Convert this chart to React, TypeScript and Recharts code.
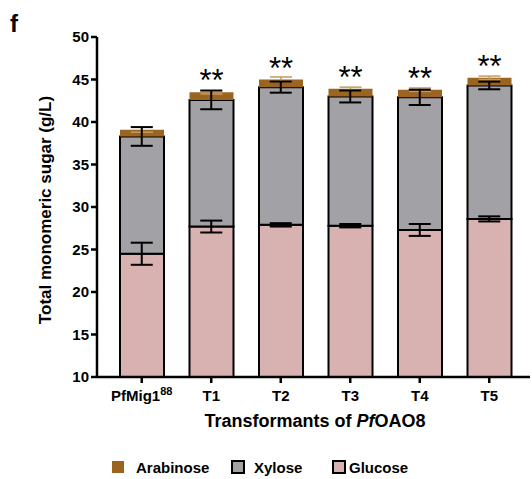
import React from "react";
import {
  ComposedChart,
  Bar,
  Line,
  XAxis,
  YAxis,
  ErrorBar,
  LabelList,
  Customized,
} from "recharts";

const categories = ["PfMig1", "T1", "T2", "T3", "T4", "T5"];
const glucose = [24.5, 27.7, 27.9, 27.8, 27.3, 28.6];
const glucoseErr = [1.3, 0.7, 0.2, 0.2, 0.7, 0.3];
const xylose = [13.8, 14.9, 16.2, 15.2, 15.6, 15.7];
const xyloseErr = [1.1, 1.1, 0.65, 0.7, 0.9, 0.45];
const arabinose = [0.8, 0.9, 0.9, 0.9, 0.9, 0.9];
const arabinoseErr = [0.3, 0.2, 0.3, 0.2, 0.2, 0.2];
const significance = ["", "**", "**", "**", "**", "**"];
const yTicks = [10, 15, 20, 25, 30, 35, 40, 45, 50];

const GLU = "#d8b1b1";
const XYL = "#a2a2a6";
const ARA = "#9c6421";
const FONT = "'Liberation Sans', Arial, sans-serif";

const data = categories.map((c, i) => ({
  name: c,
  glucose: glucose[i],
  xylose: xylose[i],
  arabinose: arabinose[i],
  glucoseTop: glucose[i],
  xyloseTop: glucose[i] + xylose[i],
  gluErr: glucoseErr[i],
  xylErr: xyloseErr[i],
  araErr: arabinoseErr[i],
  sig: significance[i],
}));

const XTick = (props: any) => {
  const { x, y, payload } = props;
  const v = payload.value as string;
  if (v === "PfMig1") {
    return (
      <text x={x} y={y + 16} textAnchor="middle" fontFamily={FONT} fontWeight="bold" fontSize={15} fill="#000">
        <tspan>PfMig1</tspan>
        <tspan dy={-6} fontSize={11}>88</tspan>
      </text>
    );
  }
  return (
    <text x={x} y={y + 16} textAnchor="middle" fontFamily={FONT} fontWeight="bold" fontSize={15} fill="#000">
      {v}
    </text>
  );
};

const renderStars = (props: any) => {
  const { x, y, width, value } = props;
  if (!value) return null;
  return (
    <text x={x + width / 2} y={y - 1} textAnchor="middle" fontFamily={FONT} fontSize={31} fill="#000">
      {value}
    </text>
  );
};

const Extras = () => {
  const items = [
    { label: "Arabinose", color: ARA, sx: 112, tx: 136, border: false },
    { label: "Xylose", color: XYL, sx: 232, tx: 254, border: true },
    { label: "Glucose", color: GLU, sx: 333, tx: 349, border: true },
  ];
  return (
    <g>
      <text x={10} y={32} fontFamily={FONT} fontWeight="bold" fontSize={24} fill="#000">f</text>
      <text
        x={45}
        y={210}
        transform="rotate(-90, 45, 210)"
        textAnchor="middle"
        dominantBaseline="central"
        fontFamily={FONT}
        fontWeight="bold"
        fontSize={17}
        fill="#000"
      >
        Total monomeric sugar (g/L)
      </text>
      <text x={315} y={427} textAnchor="middle" fontFamily={FONT} fontWeight="bold" fontSize={18} fill="#000">
        <tspan>Transformants of </tspan>
        <tspan fontStyle="italic">Pf</tspan>
        <tspan>OAO8</tspan>
      </text>
      {items.map((it) => (
        <g key={it.label}>
          <rect
            x={it.sx}
            y={461}
            width={12}
            height={12}
            fill={it.color}
            stroke={it.border ? "#000" : "none"}
            strokeWidth={it.border ? 2 : 0}
          />
          <text x={it.tx} y={473} fontFamily={FONT} fontWeight="bold" fontSize={15} fill="#000">
            {it.label}
          </text>
        </g>
      ))}
    </g>
  );
};

export default function App() {
  return (
    <div style={{ position: "absolute", left: 0, top: 0, width: 532, height: 479, background: "#fff" }}>
      <ComposedChart
        width={532}
        height={479}
        data={data}
        margin={{ top: 37, right: 2, bottom: 72, left: 37 }}
        barCategoryGap={0}
      >
        <XAxis
          dataKey="name"
          type="category"
          height={30}
          padding={{ left: 10, right: 6 }}
          axisLine={{ stroke: "#000", strokeWidth: 2.5 }}
          tickLine={{ stroke: "#000", strokeWidth: 2.5 }}
          tickSize={6}
          tick={<XTick />}
          interval={0}
        />
        <YAxis
          type="number"
          domain={[10, 50]}
          ticks={yTicks}
          allowDataOverflow
          width={60}
          axisLine={{ stroke: "#000", strokeWidth: 2.5 }}
          tickLine={{ stroke: "#000", strokeWidth: 2.5 }}
          tickSize={6}
          tick={{ fill: "#000", fontFamily: FONT, fontWeight: "bold", fontSize: 15 }}
          interval={0}
        />
        <Bar dataKey="glucose" stackId="s" fill={GLU} stroke="#000" strokeWidth={2} barSize={44} isAnimationActive={false} />
        <Bar dataKey="xylose" stackId="s" fill={XYL} stroke="#000" strokeWidth={2} barSize={44} isAnimationActive={false} />
        <Bar dataKey="arabinose" stackId="s" fill={ARA} barSize={44} isAnimationActive={false}>
          <ErrorBar dataKey="araErr" width={11} strokeWidth={1.5} stroke="#c49a5e" />
          <LabelList dataKey="sig" content={renderStars} />
        </Bar>
        <Line dataKey="glucoseTop" stroke="none" dot={false} activeDot={false} legendType="none" isAnimationActive={false}>
          <ErrorBar dataKey="gluErr" width={11} strokeWidth={2} stroke="#000" />
        </Line>
        <Line dataKey="xyloseTop" stroke="none" dot={false} activeDot={false} legendType="none" isAnimationActive={false}>
          <ErrorBar dataKey="xylErr" width={11} strokeWidth={2} stroke="#000" />
        </Line>
        <Customized component={Extras} />
      </ComposedChart>
    </div>
  );
}
